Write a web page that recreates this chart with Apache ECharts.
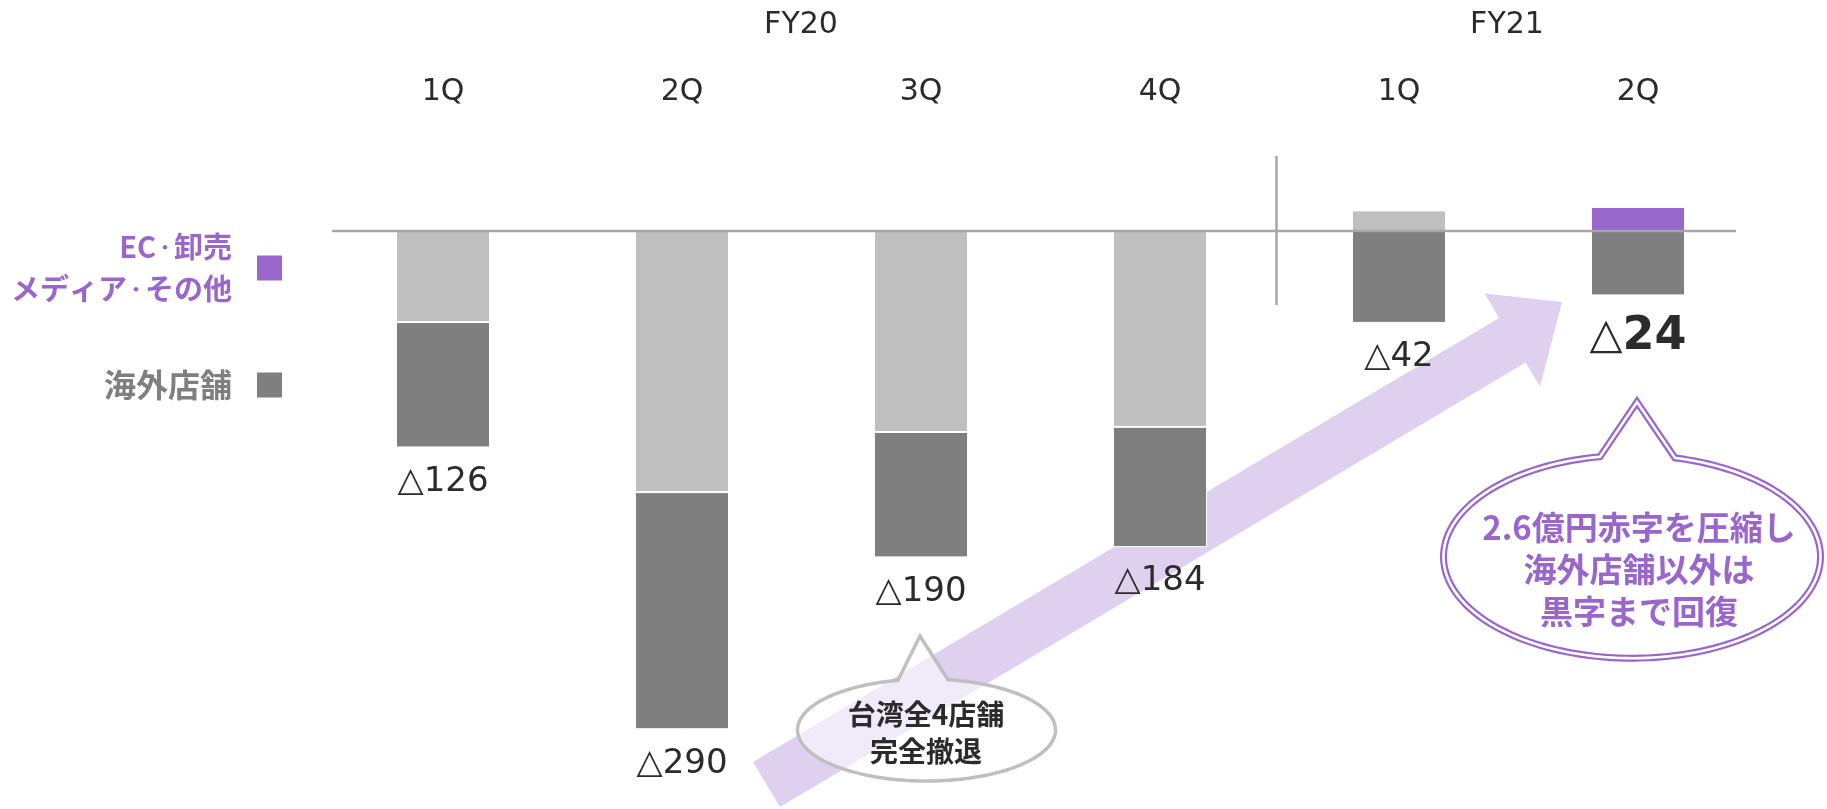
<!DOCTYPE html>
<html>
<head>
<meta charset="utf-8">
<script src="https://cdn.jsdelivr.net/npm/echarts@6/dist/echarts.min.js"></script>
<style>
html,body{margin:0;padding:0;background:#ffffff;}
#chart{width:1827px;height:809px;}
</style>
</head>
<body>
<div id="chart"></div>
<script>
// ---- data ----
const fiscalYears = ['FY20', 'FY20', 'FY20', 'FY20', 'FY21', 'FY21'];
const quarters = ['1Q', '2Q', '3Q', '4Q', '1Q', '2Q'];
const fyGroupLabels = ['FY20', 'FY21'];
const ecValues = [-53, -152, -117, -114, 12, 14];              // EC・卸売・メディア・その他
const overseasValues = [-73, -138, -73, -70, -53.5, -37.5];    // 海外店舗
const totals = [126, 290, 190, 184, 42, 24];                   // 合計（△=赤字）
const seriesNames = ['EC・卸売\nメディア・その他', '海外店舗'];
const bubbleNote1 = ['台湾全4店舗', '完全撤退'];
const bubbleNote2 = ['2.6億円赤字を圧縮し', '海外店舗以外は', '黒字まで回復'];
const highlightIndex = 5;

// ---- styles ----
const PURPLE = '#9966CC';
const LIGHT = '#BFBFBF';
const DARK = '#7F7F7F';
const AXIS_GRAY = '#A6A6A6';
const TEXT = '#2b2b2b';
const NUM_FONT = 'DejaVu Sans, Verdana, sans-serif';
const JP_FONT = 'Noto Sans CJK JP, sans-serif';

const categories = quarters.map((q, i) => fiscalYears[i] + ' ' + q);
const labelBottoms = ecValues.map((v, i) => Math.min(0, v) + Math.min(0, overseasValues[i]));

const chart = echarts.init(document.getElementById('chart'), null, {renderer: 'canvas'});

const option = {
  animation: false,
  backgroundColor: '#ffffff',
  grid: {left: 323.5, width: 1434, top: 145.1, height: 601.3, containLabel: false},
  xAxis: {
    type: 'category',
    position: 'top',
    data: categories,
    axisLine: {show: false},
    axisTick: {show: false},
    splitLine: {show: false},
    axisLabel: {
      margin: 38,
      fontSize: 30,
      color: TEXT,
      fontFamily: NUM_FONT,
      formatter: v => v.split(' ')[1]
    }
  },
  yAxis: {
    type: 'value',
    min: -300,
    max: 50,
    show: false,
    splitLine: {show: false}
  },
  legend: {
    orient: 'vertical',
    right: 1545,
    top: 226,
    padding: 0,
    align: 'right',
    icon: 'rect',
    itemWidth: 25,
    itemHeight: 25,
    itemGap: 54,
    selectedMode: false,
    itemStyle: {borderWidth: 0},
    formatter: name => name.replace(/・/g, '{d|・}'),
    textStyle: {
      fontFamily: JP_FONT,
      fontWeight: 'bold',
      fontSize: 29,
      lineHeight: 42,
      padding: [0, 20, 0, 0],
      rich: {
        d: {fontFamily: JP_FONT, fontWeight: 'bold', fontSize: 18, lineHeight: 42}
      }
    },
    data: [
      {name: seriesNames[0], textStyle: {color: PURPLE}},
      {name: seriesNames[1], textStyle: {color: DARK, fontSize: 32}}
    ]
  },
  series: [
    {
      name: seriesNames[0],
      type: 'bar',
      stack: 'total',
      barWidth: 94,
      itemStyle: {color: PURPLE, borderColor: '#ffffff', borderWidth: 1},
      data: ecValues.map((v, i) => ({
        value: v,
        itemStyle: {color: i === highlightIndex ? PURPLE : LIGHT}
      }))
    },
    {
      name: seriesNames[1],
      type: 'bar',
      stack: 'total',
      barWidth: 94,
      itemStyle: {color: DARK, borderColor: '#ffffff', borderWidth: 1},
      data: overseasValues
    },
    {
      name: 'totalLabels',
      type: 'scatter',
      symbolSize: 1,
      itemStyle: {color: '#ffffff', opacity: 1},
      silent: true,
      z: 5,
      data: labelBottoms.map((b, i) => {
        const item = {value: [i, b]};
        if (i === highlightIndex) {
          item.label = {distance: 18};
        }
        return item;
      }),
      label: {
        show: true,
        position: 'bottom',
        distance: 17,
        fontFamily: NUM_FONT,
        fontSize: 34,
        color: TEXT,
        formatter: p => p.dataIndex === highlightIndex
          ? '{t|△}{b|' + totals[p.dataIndex] + '}'
          : '△' + totals[p.dataIndex],
        rich: {
          t: {fontFamily: NUM_FONT, fontSize: 43, color: TEXT, fontWeight: 'normal'},
          b: {fontFamily: NUM_FONT, fontSize: 46, color: TEXT, fontWeight: 'bold'}
        }
      }
    }
  ]
};

chart.setOption(option);

// ---- annotations ----
const y0 = chart.convertToPixel({yAxisIndex: 0}, 0);
const xFirst = chart.convertToPixel({xAxisIndex: 0}, 0);
const xLast = chart.convertToPixel({xAxisIndex: 0}, categories.length - 1);
const xSep = (chart.convertToPixel({xAxisIndex: 0}, 3) + chart.convertToPixel({xAxisIndex: 0}, 4)) / 2 - 3;

// speech bubble outline: ellipse with a pointer on top
function bubblePoints(cx, cy, rx, ry, bx1, bx2, tx, ty) {
  const t1 = Math.acos((bx1 - cx) / rx);
  const t2 = Math.acos((bx2 - cx) / rx);
  const pts = [];
  pts.push([bx1, cy - ry * Math.sin(t1)]);
  pts.push([tx, ty]);
  const end = t1 - 2 * Math.PI;
  const steps = 160;
  for (let k = 0; k <= steps; k++) {
    const t = t2 + (end - t2) * k / steps;
    pts.push([cx + rx * Math.cos(t), cy - ry * Math.sin(t)]);
  }
  return pts;
}

const arrowPoints = [
  [753, 762], [1499, 318], [1484.5, 293.5], [1562, 302],
  [1540, 386.5], [1525.5, 362.5], [780, 807]
];

const grayBubble = bubblePoints(926.5, 730, 129, 51, 898, 948, 920, 636);
const purpleBubble = bubblePoints(1632, 556.7, 188.5, 101.5, 1600, 1675, 1637, 402);

chart.setOption({
  graphic: [
    {type: 'polygon', z: 0, silent: true, shape: {points: arrowPoints}, style: {fill: '#E0D0F0'}},
    {type: 'line', z: 10, silent: true,
      shape: {x1: xFirst - 111, y1: y0, x2: xLast + 98, y2: y0},
      style: {stroke: AXIS_GRAY, lineWidth: 2.5}},
    {type: 'line', z: 10, silent: true,
      shape: {x1: xSep, y1: y0 - 75, x2: xSep, y2: y0 + 74},
      style: {stroke: AXIS_GRAY, lineWidth: 2.5}},
    {type: 'text', z: 10, silent: true, x: 801, y: 25,
      style: {text: fyGroupLabels[0], font: '30px ' + NUM_FONT, fill: TEXT, align: 'center', verticalAlign: 'middle'}},
    {type: 'text', z: 10, silent: true, x: 1507, y: 25,
      style: {text: fyGroupLabels[1], font: '30px ' + NUM_FONT, fill: TEXT, align: 'center', verticalAlign: 'middle'}},
    {type: 'polygon', z: 1, silent: true, shape: {points: grayBubble},
      style: {fill: 'rgba(255,255,255,0.55)', stroke: '#BFBFBF', lineWidth: 3.5, lineJoin: 'miter'}},
    {type: 'text', z: 2, silent: true, x: 926, y: 733,
      style: {text: bubbleNote1.join('\n'), font: 'bold 28px ' + JP_FONT, fill: TEXT,
        align: 'center', verticalAlign: 'middle', lineHeight: 37}},
    {type: 'polygon', z: 1, silent: true, shape: {points: purpleBubble},
      style: {fill: '#ffffff', stroke: PURPLE, lineWidth: 7, lineJoin: 'miter'}},
    {type: 'polygon', z: 1, silent: true, shape: {points: purpleBubble},
      style: {fill: 'none', stroke: '#ffffff', lineWidth: 2.6, lineJoin: 'miter'}},
    {type: 'text', z: 2, silent: true, x: 1639, y: 569,
      style: {text: bubbleNote2.join('\n'), font: 'bold 33px ' + JP_FONT, fill: PURPLE,
        align: 'center', verticalAlign: 'middle', lineHeight: 42}}
  ]
});
</script>
</body>
</html>
